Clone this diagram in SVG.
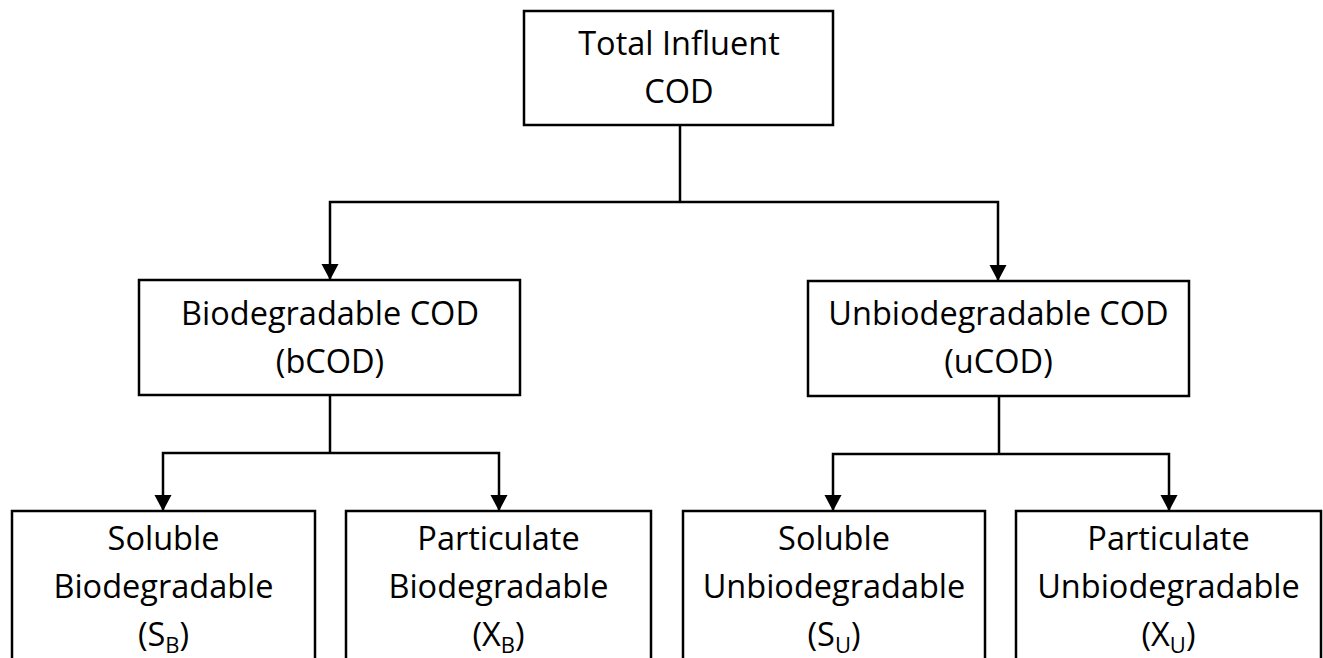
<svg xmlns="http://www.w3.org/2000/svg" width="1323" height="658" viewBox="0 0 1323 658">
<defs>
<style>
.box{fill:#fff;stroke:#000;stroke-width:2.5}
.lbl{font-family:"Open Sans","Liberation Sans",sans-serif;font-size:32.5px;fill:#000;text-anchor:middle}
.sub{font-size:22px}
.con{fill:none;stroke:#000;stroke-width:2.5}
</style>
<marker id="arr" markerUnits="userSpaceOnUse" markerWidth="18" markerHeight="18" refX="16" refY="8.5" orient="auto">
<path d="M0,0 L16,8.5 L0,17 Z" fill="#000"/>
</marker>
</defs>
<rect width="1323" height="658" fill="#fff"/>
<g id="connectors">
<path class="con" d="M680 125 V202"/>
<path class="con" d="M680 202 H330 V280" marker-end="url(#arr)"/>
<path class="con" d="M680 202 H998 V281" marker-end="url(#arr)"/>
<path class="con" d="M330 395 V453"/>
<path class="con" d="M330 453 H163 V511" marker-end="url(#arr)"/>
<path class="con" d="M330 453 H499 V511" marker-end="url(#arr)"/>
<path class="con" d="M999 396 V454"/>
<path class="con" d="M999 454 H833 V511" marker-end="url(#arr)"/>
<path class="con" d="M999 454 H1169 V511" marker-end="url(#arr)"/>
</g>
<g id="total">
<rect class="box" x="524" y="11" width="309" height="114"/>
<text class="lbl" x="679" y="55">Total Influent</text>
<text class="lbl" x="679" y="103">COD</text>
</g>
<g id="bcod">
<rect class="box" x="139" y="280" width="381" height="115"/>
<text class="lbl" x="330" y="325">Biodegradable COD</text>
<text class="lbl" x="330" y="373">(bCOD)</text>
</g>
<g id="ucod">
<rect class="box" x="808" y="281" width="381" height="115"/>
<text class="lbl" x="998.5" y="325">Unbiodegradable COD</text>
<text class="lbl" x="998.5" y="373">(uCOD)</text>
</g>
<g id="sb">
<rect class="box" x="12" y="511" width="303" height="170"/>
<text class="lbl" x="163.5" y="550">Soluble</text>
<text class="lbl" x="163.5" y="598">Biodegradable</text>
<text class="lbl" x="163.5" y="646">(S<tspan class="sub" dy="7">B</tspan><tspan dy="-7">)</tspan></text>
</g>
<g id="xb">
<rect class="box" x="346" y="511" width="305" height="170"/>
<text class="lbl" x="498.5" y="550">Particulate</text>
<text class="lbl" x="498.5" y="598">Biodegradable</text>
<text class="lbl" x="498.5" y="646">(X<tspan class="sub" dy="7">B</tspan><tspan dy="-7">)</tspan></text>
</g>
<g id="su">
<rect class="box" x="683" y="511" width="302" height="170"/>
<text class="lbl" x="834" y="550">Soluble</text>
<text class="lbl" x="834" y="598">Unbiodegradable</text>
<text class="lbl" x="834" y="646">(S<tspan class="sub" dy="7">U</tspan><tspan dy="-7">)</tspan></text>
</g>
<g id="xu">
<rect class="box" x="1016" y="511" width="305" height="170"/>
<text class="lbl" x="1168.5" y="550">Particulate</text>
<text class="lbl" x="1168.5" y="598">Unbiodegradable</text>
<text class="lbl" x="1168.5" y="646">(X<tspan class="sub" dy="7">U</tspan><tspan dy="-7">)</tspan></text>
</g>
</svg>
